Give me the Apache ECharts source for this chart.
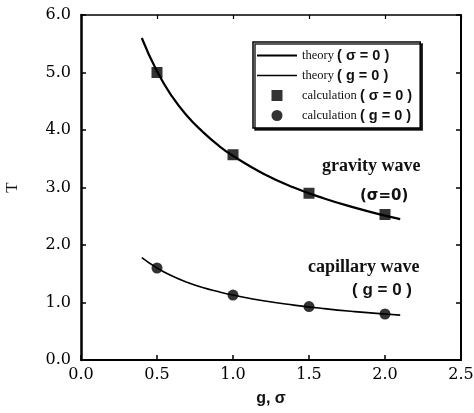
<!DOCTYPE html>
<html><head><meta charset="utf-8">
<script src="https://cdn.jsdelivr.net/npm/echarts@6/dist/echarts.min.js"></script>
<style>html,body{margin:0;padding:0;background:#fff}#c{width:474px;height:413px}</style>
</head><body><div id="c"></div>
<script>
// theory curves
const theoryX = [0.4, 0.5, 0.6, 0.7, 0.8, 0.9, 1.0, 1.2, 1.4, 1.6, 1.8, 2.0, 2.1];
const gravityTheory = [5.6, 5.02, 4.58, 4.24, 3.97, 3.74, 3.55, 3.24, 3.0, 2.81, 2.65, 2.51, 2.45];
const capillaryTheory = [1.78, 1.6, 1.46, 1.35, 1.26, 1.19, 1.13, 1.03, 0.955, 0.893, 0.842, 0.8, 0.78];
// calculation points
const calcX = [0.5, 1.0, 1.5, 2.0];
const gravityCalc = [5.0, 3.57, 2.9, 2.53];
const capillaryCalc = [1.6, 1.13, 0.93, 0.8];
// ticks
const xTicks = {min: 0, max: 2.5, interval: 0.5};
const yTicks = {min: 0, max: 6, interval: 1};
const names = ['theory ( σ = 0 )', 'theory ( g = 0 )', 'calculation ( σ = 0 )', 'calculation ( g = 0 )'];

const pair = (xs, ys) => xs.map((x, i) => [x, ys[i]]);
const serif = '"Liberation Serif","Times New Roman",serif';
const sans = '"Liberation Sans",Arial,sans-serif';
const tickFont = {fontFamily: '"DejaVu Serif",serif', fontSize: 16, fontWeight: 'normal', color: '#000', formatter: v => v.toFixed(1)};

const chart = echarts.init(document.getElementById('c'));
chart.setOption({
  animation: false,
  backgroundColor: '#fff',
  grid: {left: 81, right: 13, top: 15, bottom: 53, containLabel: false, outerBoundsMode: 'none'},
  legend: {
    left: 253, top: 42, orient: 'vertical',
    backgroundColor: '#fff', borderColor: '#000', borderWidth: 1.5,
    shadowColor: 'rgba(0,0,0,0.85)', shadowOffsetX: 2, shadowOffsetY: 2, shadowBlur: 0,
    padding: [6, 8, 5, 4], itemGap: 5, itemWidth: 40, itemHeight: 11,
    formatter: n => { const i = n.indexOf('('); return '{a|' + n.slice(0, i) + '}{b|' + n.slice(i) + '}'; },
    textStyle: {
      color: '#111',
      rich: {
        a: {fontFamily: serif, fontSize: 12.5, color: '#111', lineHeight: 14},
        b: {fontFamily: sans, fontSize: 14.5, fontWeight: 'bold', color: '#111', lineHeight: 14}
      }
    },
    data: [
      {name: names[0], icon: 'path://M0,0 L40,0 L40,2.2 L0,2.2 Z', itemStyle: {color: '#000'}},
      {name: names[1], icon: 'path://M0,0 L40,0 L40,1.4 L0,1.4 Z', itemStyle: {color: '#000'}},
      {name: names[2], icon: 'path://M0,0 L10,0 L10,10 L0,10 Z'},
      {name: names[3], icon: 'circle'}
    ]
  },
  xAxis: [{
    type: 'value', min: xTicks.min, max: xTicks.max, interval: xTicks.interval,
    name: 'g, σ', nameLocation: 'middle', nameGap: 31,
    nameTextStyle: {fontFamily: sans, fontSize: 16, fontWeight: 'bold', color: '#111'},
    axisLine: {onZero: false, lineStyle: {color: '#000', width: 2}},
    axisTick: {inside: true, length: 5, lineStyle: {color: '#000', width: 1.5}},
    axisLabel: Object.assign({}, tickFont, {margin: 7}),
    splitLine: {show: false}
  }, {
    type: 'value', position: 'top', min: xTicks.min, max: xTicks.max, interval: xTicks.interval,
    axisLine: {show: true, onZero: false, lineStyle: {color: '#000', width: 1.5}},
    axisTick: {show: true, inside: true, length: 4, lineStyle: {color: '#000', width: 1.2}},
    axisLabel: {show: false}, splitLine: {show: false}
  }],
  yAxis: [{
    type: 'value', min: yTicks.min, max: yTicks.max, interval: yTicks.interval,
    name: 'T', nameLocation: 'middle', nameGap: 60, nameRotate: 90,
    nameTextStyle: {fontFamily: serif, fontSize: 17, color: '#111'},
    axisLine: {show: true, onZero: false, lineStyle: {color: '#000', width: 2.5}},
    axisTick: {inside: true, length: 5, lineStyle: {color: '#000', width: 1.5}},
    axisLabel: Object.assign({}, tickFont, {margin: 10}),
    splitLine: {show: false}
  }, {
    type: 'value', position: 'right', min: yTicks.min, max: yTicks.max, interval: yTicks.interval,
    axisLine: {show: true, onZero: false, lineStyle: {color: '#000', width: 2}},
    axisTick: {show: true, inside: true, length: 5, lineStyle: {color: '#000', width: 1.5}},
    axisLabel: {show: false}, splitLine: {show: false}
  }],
  series: [
    {name: names[0], type: 'line', smooth: true, symbol: 'none', data: pair(theoryX, gravityTheory),
     lineStyle: {color: '#000', width: 2.2}, itemStyle: {color: '#000'}},
    {name: names[1], type: 'line', smooth: true, symbol: 'none', data: pair(theoryX, capillaryTheory),
     lineStyle: {color: '#000', width: 1.6}, itemStyle: {color: '#000'}},
    {name: names[2], type: 'scatter', symbol: 'rect', symbolSize: 11, data: pair(calcX, gravityCalc),
     itemStyle: {color: '#000'}, z: 5},
    {name: names[3], type: 'scatter', symbol: 'circle', symbolSize: 11, data: pair(calcX, capillaryCalc),
     itemStyle: {color: '#000'}, z: 5}
  ],
  graphic: [
    {type: 'text', left: 322, top: 157, style: {text: 'gravity wave', font: 'bold 18px ' + serif, fill: '#111'}},
    {type: 'text', left: 360, top: 189, style: {text: '(σ=0)', font: 'bold 15px "DejaVu Sans",sans-serif', fill: '#111'}},
    {type: 'text', left: 308, top: 258, style: {text: 'capillary wave', font: 'bold 18px ' + serif, fill: '#111'}},
    {type: 'text', left: 352, top: 282, style: {text: '( g = 0 )', font: 'bold 17px ' + sans, fill: '#111'}}
  ]
});
</script></body></html>
